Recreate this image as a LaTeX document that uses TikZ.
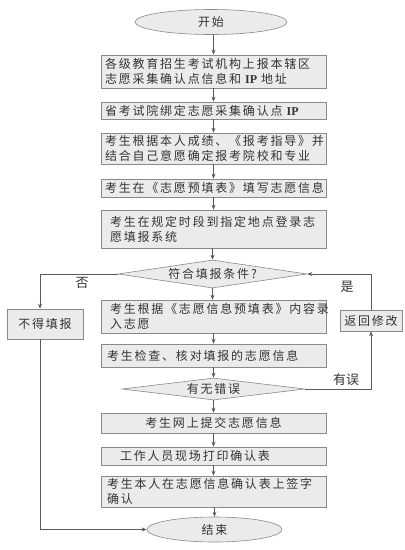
\documentclass[tikz,border=0pt]{standalone}
\usepackage{fontspec}
\setmainfont{Liberation Serif}
\newfontfamily\cjk[LetterSpace=15]{Noto Sans CJK SC}
\newfontfamily\cjklab{Noto Sans CJK SC}
\newcommand\latinip{{\rmfamily\bfseries IP}}
\usetikzlibrary{shapes.geometric,shadows,arrows.meta}
\definecolor{boxfill}{HTML}{EBEBEB}
\definecolor{boxline}{HTML}{8A8A8A}
\definecolor{wire}{HTML}{5A5A5A}
\definecolor{ink}{HTML}{333333}
\begin{document}
\begin{tikzpicture}[x=1pt,y=-1pt,
  every node/.style={font=\cjk\fontsize{12}{15}\selectfont, text=ink},
  stepbox/.style={draw=boxline, fill=boxfill, line width=0.6pt, rectangle,
    minimum width=225pt, text width=217pt, inner xsep=4pt, inner ysep=0pt, align=left,
    drop shadow={shadow xshift=1.2pt, shadow yshift=-1.2pt, fill=black!35, opacity=1}},
  sidebox/.style={draw=boxline, fill=boxfill, line width=0.6pt, rectangle, inner sep=0pt, align=center,
    drop shadow={shadow xshift=1.2pt, shadow yshift=-1.2pt, fill=black!35, opacity=1}},
  term/.style={draw=boxline, fill=boxfill, line width=0.6pt, ellipse, inner sep=0pt},
  decide/.style={draw=boxline, fill=boxfill, line width=0.6pt, diamond, inner sep=0pt, aspect=6.5},
  arr/.style={draw=wire, line width=0.7pt, -{Stealth[length=5pt,width=4pt]}},
  lab/.style={font=\cjklab\fontsize{13}{13}\selectfont, text=ink, inner sep=0pt}
]
\useasboundingbox (0,0) rectangle (405,550);

\node[term, minimum width=152pt, minimum height=25pt] (start) at (211,22) {开始};
\node[stepbox, minimum height=33pt] (b1) at (213.5,71.5)
  {各级教育招生考试机构上报本辖区\\志愿采集确认点信息和 \latinip{} 地址};
\node[stepbox, minimum height=17pt] (b2) at (213.5,110.5) {省考试院绑定志愿采集确认点 \latinip};
\node[stepbox, minimum height=31pt] (b3) at (213.5,148.5)
  {考生根据本人成绩、《报考指导》并\\结合自己意愿确定报考院校和专业};
\node[stepbox, minimum height=18pt] (b4) at (213.5,188) {考生在《志愿预填表》填写志愿信息};
\node[stepbox, minimum height=38pt] (b5) at (213.5,229)
  {\hspace*{5pt}考生在规定时段到指定地点登录志\\\hspace*{5pt}愿填报系统};
\node[decide, minimum width=189pt, minimum height=28pt] (d1) at (212.5,274) {符合填报条件?};
\node[sidebox, minimum width=76pt, minimum height=30pt] (no) at (45,324) {不得填报};
\node[stepbox, minimum height=33pt] (b6) at (213.5,316.5)
  {\hspace*{5pt}考生根据《志愿信息预填表》内容录\\\hspace*{5pt}入志愿};
\node[stepbox, minimum height=23pt] (b7) at (213.5,355.5) {\hspace*{2pt}考生检查、核对填报的志愿信息};
\node[decide, minimum width=183pt, minimum height=22pt] (d2) at (213.5,389) {有无错误};
\node[sidebox, minimum width=62pt, minimum height=21pt] (back) at (371,320.5) {返回修改};
\node[stepbox, minimum height=20pt, align=center] (b8) at (213.5,423) {考生网上提交志愿信息};
\node[stepbox, minimum height=18pt] (b9) at (213.5,456) {\hspace*{15pt}工作人员现场打印确认表};
\node[stepbox, minimum height=31pt] (b10) at (213.5,491.5)
  {\hspace*{2pt}考生本人在志愿信息确认表上签字\\\hspace*{2pt}确认};
\node[term, minimum width=135pt, minimum height=25pt] (end) at (214.5,529.5) {结束};

\draw[arr] (start.south -| b1.north) -- (b1.north);
\draw[arr] (b1) -- (b2);
\draw[arr] (b2) -- (b3);
\draw[arr] (b3) -- (b4);
\draw[arr] (b4) -- (b5);
\draw[arr] (b5.south -| d1.north) -- (d1.north);
\draw[arr] (d1.south) -- (d1.south |- b6.north);
\draw[arr] (b6) -- (b7);
\draw[arr] (b7.south -| d2.north) -- (d2.north);
\draw[arr] (d2.south -| b8.north) -- (b8.north);
\draw[arr] (b8) -- (b9);
\draw[arr] (b9) -- (b10);
\draw[arr] (b10.south -| end.north) -- (end.north);

\coordinate (noTop) at (40,0);
\draw[arr] (d1.west) -| (noTop |- no.north);
\draw[arr] (noTop |- no.south) |- (end.west);
\draw[arr] (d2.east) -| (back.south);
\draw[arr] (back.north) |- (d1.east);

\node[lab] (lno) at (82,283) {否};
\node[lab] (lyes) at (347,287) {是};
\node[lab] (lerr) at (346,380) {有误};
\end{tikzpicture}
\end{document}
